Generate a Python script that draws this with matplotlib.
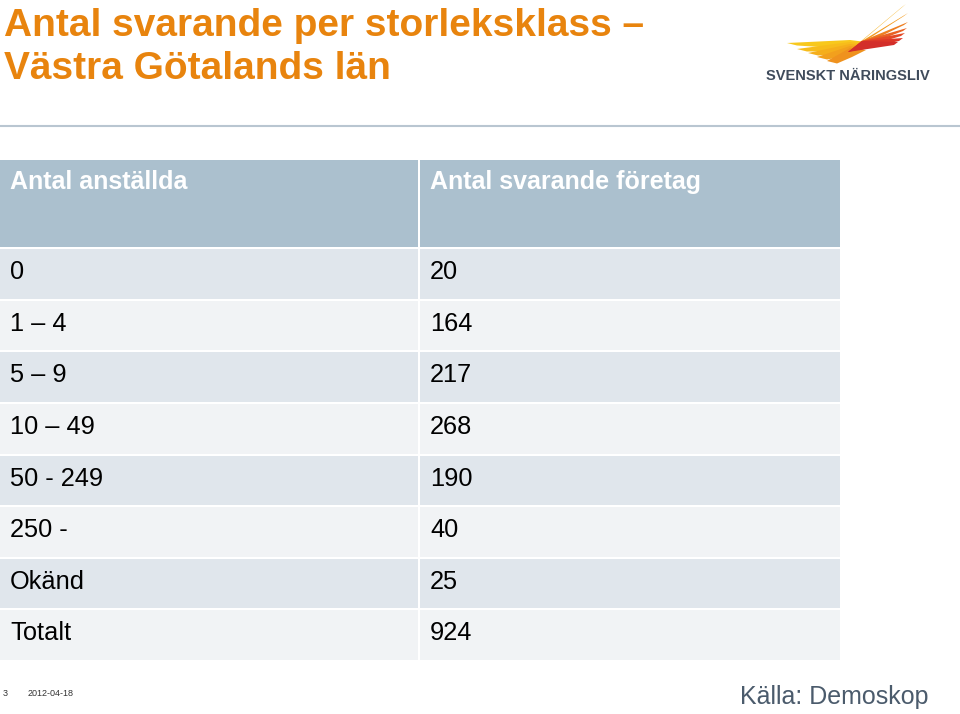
import matplotlib.pyplot as plt
from matplotlib.patches import Rectangle, Polygon

plt.rcParams["font.family"] = ["Liberation Sans", "DejaVu Sans"]

# table data
header = ["Antal anställda", "Antal svarande företag"]
size_classes = ["0", "1 – 4", "5 – 9", "10 – 49", "50 - 249", "250 -", "Okänd", "Totalt"]
respondents = [20, 164, 217, 268, 190, 40, 25, 924]

title_lines = ["Antal svarande per storleksklass –", "Västra Götalands län"]
source = "Källa: Demoskop"
slide_no = "3"
slide_date = "2012-04-18"

orange = "#E8840E"
head_col = "#ABC0CE"
row_dark = "#E0E6EC"
row_light = "#F1F3F5"

fig = plt.figure(figsize=(9.6, 7.14), dpi=100)
ax = fig.add_axes([0, 0, 1, 1])
ax.set_xlim(0, 960)
ax.set_ylim(714, 0)
ax.axis("off")

# title
ax.text(4, 26, title_lines[0], fontsize=28, fontweight="bold", color=orange, va="center")
ax.text(4, 69, title_lines[1], fontsize=28, fontweight="bold", color=orange, va="center")
ax.plot([0, 960], [126, 126], color="#B9C6D1", lw=1.5)

# logo: wing + name
left_tips = [(787, 43), (797, 49), (808, 53), (817, 57), (827, 61)]
left_cols = ["#F8C81C", "#F7BC1B", "#F5AE1B", "#F2A01D", "#EF921E"]
for i, ((tx, ty), c) in enumerate(zip(left_tips, left_cols)):
    ax.add_patch(Polygon([(tx, ty), (850, 40 + 2 * i), (866, 42 + 2 * i),
                          (852, 49 + 2 * i), (tx + 10, ty + 2.5)], closed=True, color=c, lw=0))
fan_tips = [(906, 4), (908, 13), (908, 22), (907, 28), (905, 33), (903, 38), (898, 42)]
fan_cols = ["#F6B01A", "#F39A1D", "#EE7E20", "#E96123", "#E34826", "#DD3628", "#D32E2A"]
for (tx, ty), c in zip(fan_tips, fan_cols):
    ax.add_patch(Polygon([(848, 52), (862, 41), (tx, ty), (tx - 4, ty + 3)], closed=True, color=c, lw=0))
ax.text(848, 76, "SVENSKT NÄRINGSLIV", fontsize=10.5, fontweight="bold",
        color="#3F4B5B", ha="center", va="center")

# table
x0, xs, x1 = 0, 419, 840
gap = 2
head_top, head_bot = 160, 247
row_h = (660 - head_bot) / len(size_classes)

ax.add_patch(Rectangle((x0, head_top), xs - x0 - gap / 2, head_bot - head_top, color=head_col, lw=0))
ax.add_patch(Rectangle((xs + gap / 2, head_top), x1 - xs - gap / 2, head_bot - head_top, color=head_col, lw=0))
ax.text(10, 182, header[0], fontsize=18, fontweight="bold", color="white", va="center")
ax.text(430, 182, header[1], fontsize=18, fontweight="bold", color="white", va="center")

for i, (lab, val) in enumerate(zip(size_classes, respondents)):
    top = head_bot + gap + i * row_h
    h = row_h - gap
    col = row_dark if i % 2 == 0 else row_light
    ax.add_patch(Rectangle((x0, top), xs - x0 - gap / 2, h, color=col, lw=0))
    ax.add_patch(Rectangle((xs + gap / 2, top), x1 - xs - gap / 2, h, color=col, lw=0))
    ax.text(10, top + 23, lab, fontsize=18.3, color="black", va="center")
    ax.text(430, top + 23, str(val), fontsize=18.3, color="black", va="center")

# footer
ax.text(3, 693, slide_no, fontsize=6.5, color="#333333", va="center")
ax.text(28, 693, slide_date, fontsize=6.5, color="#333333", va="center")
ax.text(928, 697, source, fontsize=18, color="#4B5B6C", ha="right", va="center")

fig.savefig("out.png", dpi=100)
